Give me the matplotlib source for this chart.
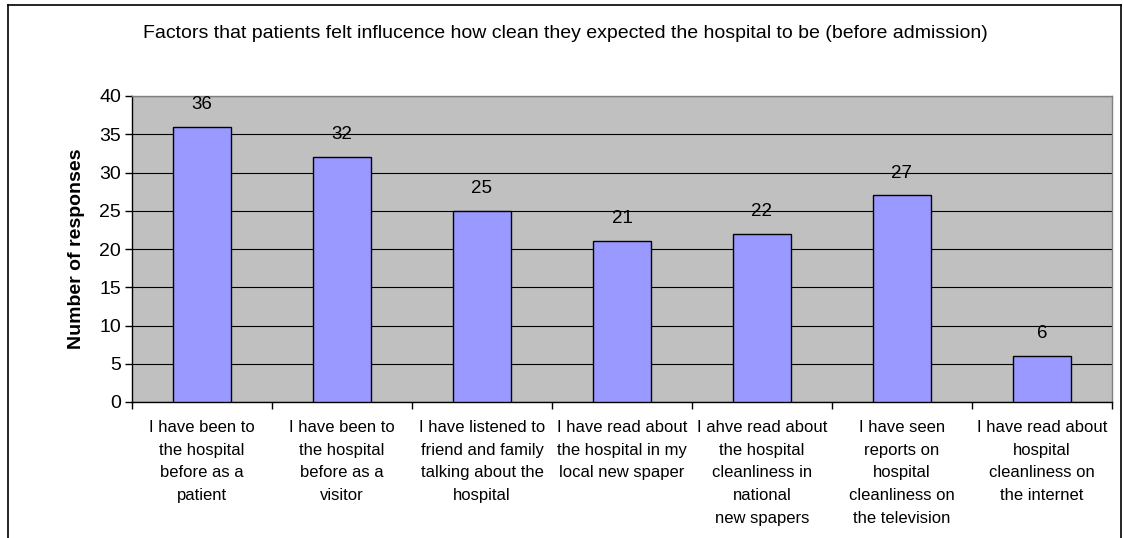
import matplotlib.pyplot as plt

plt.rcParams["font.family"] = ["Liberation Sans", "DejaVu Sans"]

categories = [
    "I have been to\nthe hospital\nbefore as a\npatient",
    "I have been to\nthe hospital\nbefore as a\nvisitor",
    "I have listened to\nfriend and family\ntalking about the\nhospital",
    "I have read about\nthe hospital in my\nlocal new spaper",
    "I ahve read about\nthe hospital\ncleanliness in\nnational\nnew spapers",
    "I have seen\nreports on\nhospital\ncleanliness on\nthe television",
    "I have read about\nhospital\ncleanliness on\nthe internet",
]
responses = [36, 32, 25, 21, 22, 27, 6]
y_ticks = [0, 5, 10, 15, 20, 25, 30, 35, 40]

W, H = 1124, 538
fig = plt.figure(figsize=(W / 100, H / 100), dpi=100)
fig.patch.set_facecolor("white")

# outer chart frame (bottom edge cut off as in the source)
fig.add_artist(plt.Line2D([8 / W, 8 / W], [0, 1 - 5 / H], color="black", lw=1.2))
fig.add_artist(plt.Line2D([8 / W, 1121 / W], [1 - 5 / H, 1 - 5 / H], color="black", lw=1.2))
fig.add_artist(plt.Line2D([1121 / W, 1121 / W], [0, 1 - 5 / H], color="black", lw=1.2))

left, right, top, bottom = 132, 1112, 96, 402
ax = fig.add_axes([left / W, 1 - bottom / H, (right - left) / W, (bottom - top) / H])
ax.set_facecolor("#C0C0C0")

x = list(range(len(categories)))
bars = ax.bar(x, responses, width=0.41, color="#9999FF", edgecolor="black", linewidth=1.0, zorder=3)
for b, v in zip(bars, responses):
    ax.annotate(str(v), (b.get_x() + b.get_width() / 2, v), xytext=(0, 10),
                textcoords="offset points", ha="center", va="bottom", fontsize=13.5, zorder=4)

ax.set_xlim(-0.5, len(categories) - 0.5)
ax.set_ylim(0, 40)
ax.set_yticks(y_ticks)
ax.yaxis.grid(True, color="black", linewidth=0.8, zorder=1)
ax.set_axisbelow(True)

ax.set_xticks([i - 0.5 for i in range(len(categories) + 1)])
ax.set_xticklabels([])
ax.set_xticks(x, minor=True)
ax.set_xticklabels(categories, minor=True, fontsize=12, linespacing=1.64)
ax.tick_params(axis="x", which="minor", length=0, pad=13)
ax.tick_params(axis="x", which="major", length=5, width=1, direction="out")
ax.tick_params(axis="y", length=5, width=1, direction="out", labelsize=14, pad=3)
for lab in ax.get_xticklabels(minor=True):
    lab.set_verticalalignment("top")

for s in ["top", "right"]:
    ax.spines[s].set_color("#808080")
    ax.spines[s].set_linewidth(1.0)
for s in ["left", "bottom"]:
    ax.spines[s].set_color("black")
    ax.spines[s].set_linewidth(1.0)

ax.set_ylabel("Number of responses", fontsize=14, fontweight="bold", labelpad=10)

fig.text(565 / W, 1 - 34 / H, "Factors that patients felt influcence how clean they expected the hospital to be (before admission)",
         ha="center", va="center", fontsize=14)

fig.savefig("out.png", dpi=100)
